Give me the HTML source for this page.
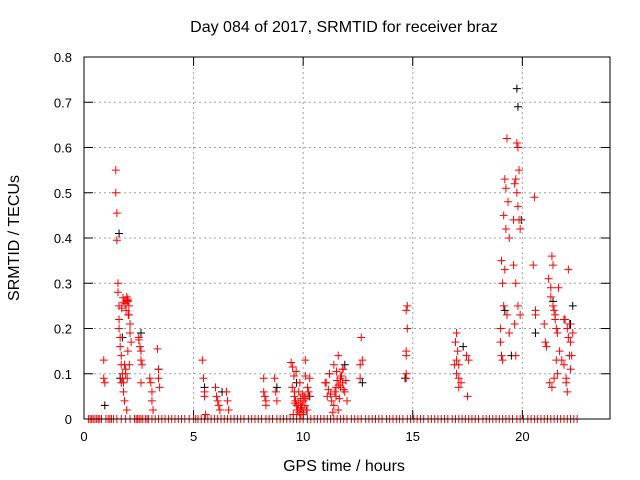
<!DOCTYPE html>
<html><head><meta charset="utf-8"><style>
html,body{margin:0;padding:0;background:#fff;}
svg{display:block;font-family:"Liberation Sans",sans-serif;}
</style></head><body>
<svg id="chart" width="640" height="480">
<text x="344" y="32" text-anchor="middle" font-size="16">Day 084 of 2017, SRMTID for receiver braz</text>
<text x="0" y="0" transform="translate(19,238) rotate(-90)" text-anchor="middle" font-size="16">SRMTID / TECUs</text>
<text x="344" y="471" text-anchor="middle" font-size="16">GPS time / hours</text>
<g id="grid"></g><g id="ticks"></g><g id="marks"></g>
<rect x="84" y="57" width="526" height="362" fill="none" stroke="#000" stroke-width="1"/>
</svg>
<script>
const xTicks=[0,5,10,15,20];
const yTicks=[0,0.1,0.2,0.3,0.4,0.5,0.6,0.7,0.8];
const yTickLabels=["0","0.1","0.2","0.3","0.4","0.5","0.6","0.7","0.8"];
const redTimes=[0.9,0.9,0.95,1.45,1.45,1.5,1.5,1.55,1.55,1.6,1.6,1.6,1.65,1.65,1.7,1.7,1.75,1.75,1.8,1.8,1.85,1.9,1.9,1.95,2.0,2.0,2.05,2.05,2.1,2.1,2.15,1.85,1.95,2.0,1.7,2.5,2.5,2.55,2.6,2.6,2.65,2.6,3.0,3.05,3.1,3.1,3.15,3.35,3.4,3.4,3.45,5.4,5.45,5.5,5.5,5.55,6.0,6.05,6.1,6.15,6.2,6.5,6.55,6.6,8.2,8.2,8.25,8.3,8.3,8.7,8.75,8.8,9.5,9.6,9.7,9.8,9.9,10.0,10.1,10.1,9.55,9.65,9.75,9.85,9.95,10.05,10.15,10.2,9.6,9.9,10.0,10.3,11.0,11.1,11.2,11.3,11.4,11.5,11.6,11.7,11.8,11.9,11.2,11.4,11.6,11.8,11.5,11.7,12.0,12.6,12.6,12.65,12.7,14.7,14.7,14.75,14.7,14.75,14.7,14.7,16.9,17.0,17.0,17.1,17.1,17.2,17.0,16.95,17.05,17.1,17.5,17.45,17.55,19.0,19.05,19.1,19.15,19.2,19.25,19.3,19.35,19.4,19.05,19.1,19.15,19.2,19.3,19.4,19.0,19.25,19.6,19.65,19.7,19.75,19.8,19.85,19.7,19.75,19.8,19.85,19.9,19.6,19.7,19.8,19.9,19.65,20.5,20.55,20.6,20.6,21.0,21.05,21.1,21.2,21.3,21.3,21.35,21.4,21.4,21.45,21.5,21.5,21.55,21.6,21.7,21.8,21.9,22.0,22.0,22.05,22.1,22.1,22.15,22.2,22.25,21.6,21.9,22.3,
1.92,1.97,2.02,2.07,1.98,1.78,1.82,1.88,1.72,9.45,9.52,9.58,9.68,9.72,9.78,9.82,9.88,9.92,9.98,10.02,10.08,10.12,10.18,10.25,9.62,9.88,10.22,11.05,11.15,11.25,11.35,11.45,11.55,11.65,11.75,11.85,11.95,11.52,11.62,11.72,11.82,21.25,21.35,21.45,21.55,21.65,21.95,22.05,22.15,22.2];
const redValues=[0.13,0.09,0.08,0.55,0.50,0.455,0.395,0.30,0.28,0.25,0.22,0.20,0.18,0.16,0.14,0.12,0.10,0.09,0.08,0.06,0.12,0.11,0.10,0.27,0.265,0.26,0.25,0.23,0.21,0.19,0.17,0.04,0.02,0.15,0.08,0.18,0.175,0.16,0.15,0.13,0.12,0.08,0.09,0.08,0.06,0.04,0.02,0.155,0.11,0.09,0.07,0.13,0.09,0.06,0.05,0.01,0.07,0.05,0.04,0.03,0.02,0.06,0.04,0.02,0.09,0.06,0.05,0.04,0.03,0.09,0.06,0.04,0.07,0.05,0.03,0.06,0.02,0.04,0.13,0.095,0.01,0.04,0.02,0.08,0.03,0.05,0.02,0.07,0.06,0.01,0.015,0.09,0.08,0.05,0.10,0.04,0.12,0.07,0.14,0.09,0.11,0.06,0.10,0.03,0.02,0.08,0.05,0.07,0.04,0.12,0.09,0.18,0.13,0.10,0.09,0.25,0.24,0.20,0.15,0.14,0.12,0.10,0.13,0.12,0.09,0.08,0.19,0.17,0.15,0.07,0.05,0.14,0.13,0.20,0.14,0.13,0.45,0.53,0.42,0.62,0.48,0.40,0.35,0.30,0.25,0.33,0.23,0.19,0.17,0.51,0.44,0.52,0.14,0.61,0.60,0.55,0.53,0.50,0.47,0.44,0.42,0.34,0.30,0.25,0.23,0.21,0.34,0.49,0.24,0.23,0.21,0.17,0.16,0.31,0.29,0.27,0.36,0.34,0.25,0.24,0.23,0.22,0.20,0.19,0.15,0.13,0.12,0.09,0.08,0.06,0.33,0.18,0.21,0.17,0.14,0.10,0.22,0.19,0.24,0.09,0.23,0.12,
0.262,0.268,0.258,0.255,0.245,0.125,0.115,0.095,0.105,0.02,0.035,0.015,0.045,0.025,0.055,0.01,0.03,0.045,0.02,0.06,0.035,0.025,0.05,0.08,0.065,0.055,0.015,0.06,0.085,0.045,0.095,0.065,0.085,0.105,0.075,0.095,0.11,0.08,0.07,0.09,0.13,0.29,0.22,0.2,0.14,0.11,0.16,0.19,0.2,0.14];
const blackTimes=[0.95,1.6,1.65,1.75,2.6,3.4,5.5,6.3,8.8,9.7,10.3,11.9,12.7,14.65,17.3,19.2,19.5,19.75,19.8,19.95,20.6,21.4,22.2,22.3];
const blackValues=[0.03,0.41,0.09,0.18,0.19,0.11,0.07,0.06,0.07,0.08,0.05,0.12,0.08,0.09,0.16,0.24,0.14,0.73,0.69,0.44,0.19,0.26,0.21,0.25];
const zeroTimes=[0.2,0.28,0.35,0.42,0.5,0.58,0.65,0.72,0.8,1.0,1.1,1.18,1.25,1.35,1.5,1.7,1.9,2.1,2.3,2.38,2.45,2.52,2.6,2.68,2.8,2.88,2.95,3.1,3.25,3.4,3.55,3.7,3.85,4.0,4.15,4.3,4.45,4.6,4.8,5.0,5.1,5.2,5.35,5.5,5.65,5.8,5.95,6.1,6.25,6.4,6.55,6.7,6.85,7.0,7.15,7.3,7.5,7.65,7.8,7.95,8.1,8.3,8.45,8.6,8.8,8.95,9.1,9.25,9.4,9.55,9.7,9.85,10.0,10.2,10.35,10.5,10.65,10.8,10.95,11.1,11.25,11.4,11.55,11.7,11.85,12.0,12.2,12.35,12.5,12.65,12.85,13.0,13.15,13.3,13.45,13.6,13.8,13.95,14.1,14.25,14.4,14.55,14.75,14.9,15.05,15.2,15.35,15.5,15.7,15.85,16.0,16.15,16.3,16.45,16.6,16.8,16.95,17.1,17.25,17.4,17.55,17.7,17.85,18.0,18.2,18.35,18.5,18.65,18.8,18.95,19.1,19.25,19.4,19.55,19.75,19.9,20.05,20.25,20.4,20.55,20.7,20.85,21.0,21.15,21.3,21.45,21.6,21.75,21.9,22.05,22.2,22.35,22.5];
const X=h=>84+h*(526/24), Y=v=>419-v*(362/0.8);
const NS='http://www.w3.org/2000/svg';
function mk(tag,attrs,parent){const e=document.createElementNS(NS,tag);for(const k in attrs)e.setAttribute(k,attrs[k]);parent.appendChild(e);return e;}
const grid=document.getElementById('grid'),ticks=document.getElementById('ticks'),marks=document.getElementById('marks');
xTicks.forEach(t=>{
 if(t>0){const g=mk('line',{x1:X(t),x2:X(t),y1:57,y2:419,stroke:'#a0a0a0','stroke-dasharray':'2,3'},grid);
 
 }
 mk('line',{x1:X(t),x2:X(t),y1:419,y2:410,stroke:'#000'},ticks);
 mk('line',{x1:X(t),x2:X(t),y1:57,y2:66,stroke:'#000'},ticks);
 const l=mk('text',{x:X(t),y:441,'text-anchor':'middle','font-size':13},ticks);l.textContent=t;
 
 
});
yTicks.forEach((t,i)=>{
 if(t>0&&t<0.8){const g=mk('line',{x1:84,x2:610,y1:Y(t),y2:Y(t),stroke:'#a0a0a0','stroke-dasharray':'2,3'},grid);
 
 }
 mk('line',{x1:84,x2:93,y1:Y(t),y2:Y(t),stroke:'#000'},ticks);
 mk('line',{x1:610,x2:601,y1:Y(t),y2:Y(t),stroke:'#000'},ticks);
 const l=mk('text',{x:72,y:Y(t)+5,'text-anchor':'end','font-size':13},ticks);l.textContent=yTickLabels[i];
 
 
});
function plus(h,v,col,name){
 const x=X(h),y=Y(v);
 const p=mk('path',{d:`M${x-4},${y}H${x+4}M${x},${y-4}V${y+4}`,stroke:col,'stroke-width':1,fill:'none'},marks);
 
 
}
blackTimes.forEach((t,i)=>plus(t,blackValues[i],'#000','black-point'));
zeroTimes.forEach(t=>plus(t,0,'#ff0000','zero-point'));
redTimes.forEach((t,i)=>plus(t,redValues[i],'#ff0000','red-point'));
</script>
</body></html>
